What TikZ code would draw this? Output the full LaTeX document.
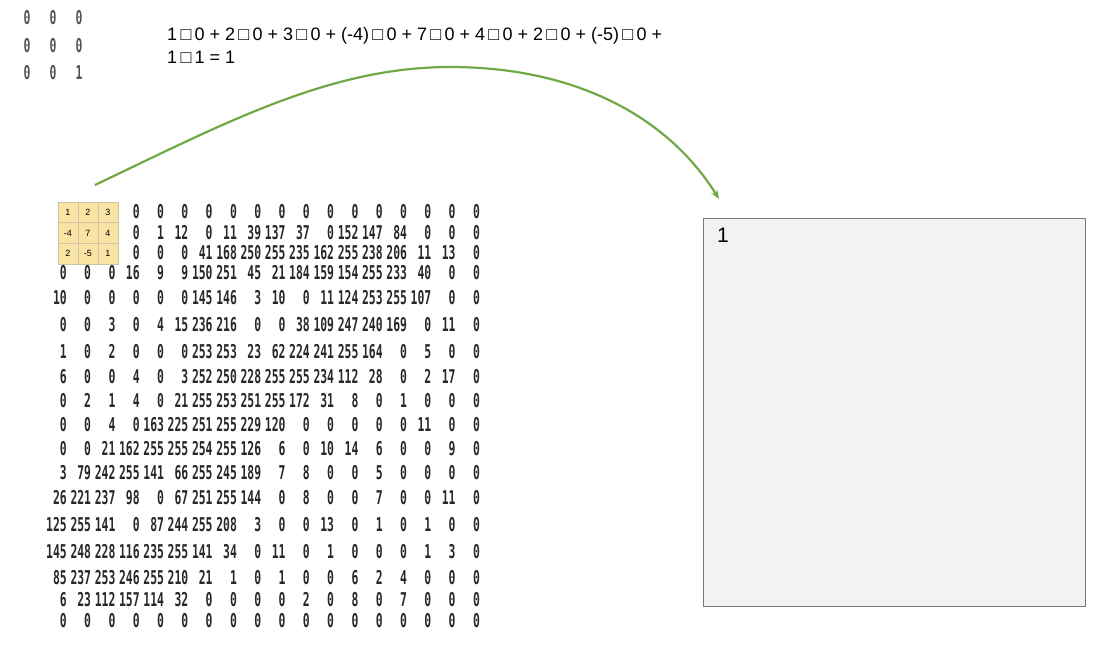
\documentclass[tikz,border=0pt]{standalone}
\usepackage{fontspec}
\setmainfont{Liberation Sans}
\newfontfamily\matfont[FakeStretch=0.6]{DejaVu Sans Mono}
\newfontfamily\eqfont{Liberation Sans}
\usetikzlibrary{arrows.meta}
\definecolor{arrowgreen}{RGB}{112,168,70}
\definecolor{kernfill}{RGB}{250,228,164}
\definecolor{kernline}{RGB}{205,195,165}
\definecolor{boxfill}{RGB}{242,242,242}
\definecolor{boxline}{RGB}{120,120,120}
\definecolor{digit}{RGB}{40,40,40}
\newcommand{\sqb}{\hspace{3.3pt}□\hspace{3.3pt}}
\begin{document}
\begin{tikzpicture}[x=1pt,y=-1pt,
  num/.style={anchor=east,inner sep=0pt,text height=13.5pt,text depth=0pt,text=digit,font=\matfont\bfseries\fontsize{19}{19}\selectfont},
  small/.style={anchor=center,inner sep=0pt,text height=13.5pt,text depth=0pt,text=digit!80,font=\matfont\bfseries\fontsize{19}{19}\selectfont},
  kcell/.style={draw=kernline,fill=kernfill,line width=0.6pt,minimum width=20pt,minimum height=20.7pt,inner sep=0pt,font=\eqfont\fontsize{9}{9}\selectfont},
  eqtext/.style={anchor=north west,inner sep=0pt,align=left,font=\eqfont\fontsize{18}{23}\selectfont},
  outbox/.style={draw=boxline,fill=boxfill,line width=1pt},
  flow/.style={draw=arrowgreen,line width=2.2pt,-{Stealth[length=9pt,width=7pt]}}]
\useasboundingbox (0,0) rectangle (1106,670);
\fill[white] (0,0) rectangle (1106,670);
% small result matrix
\foreach \r/\rv in {1/18,2/46,3/73}{
  \foreach \c/\cv in {1/27,2/53,3/79}{
    \pgfmathtruncatemacro\val{(\r==3 && \c==3) ? 1 : 0}
    \node[small] (s\r\c) at (\cv,\rv) {\val};
  }
}
% equation
\node[eqtext] (eq) at (167,27) {1\sqb0 + 2\sqb0 + 3\sqb0 + (-4)\sqb0 + 7\sqb0 + 4\sqb0 + 2\sqb0 + (-5)\sqb0 +\\1\sqb1 = 1};
% kernel
\foreach \r/\rowvals in {1/{1,2,3},2/{-4,7,4},3/{2,-5,1}}{
  \foreach \v [count=\c] in \rowvals {
    \node[kcell] (k\r\c) at ({58+20*\c-10},{202+20.7*\r-10.35}) {\v};
  }
}
% image matrix
\def\rowys{{212,232.5,253,273,298,325,352,377,401,425,449,473,498,525,552,578,600,621}}
\foreach \rowvals [count=\r] in {
 {,,,0,0,0,0,0,0,0,0,0,0,0,0,0,0,0},
 {,,,0,1,12,0,11,39,137,37,0,152,147,84,0,0,0},
 {,,,0,0,0,41,168,250,255,235,162,255,238,206,11,13,0},
 {0,0,0,16,9,9,150,251,45,21,184,159,154,255,233,40,0,0},
 {10,0,0,0,0,0,145,146,3,10,0,11,124,253,255,107,0,0},
 {0,0,3,0,4,15,236,216,0,0,38,109,247,240,169,0,11,0},
 {1,0,2,0,0,0,253,253,23,62,224,241,255,164,0,5,0,0},
 {6,0,0,4,0,3,252,250,228,255,255,234,112,28,0,2,17,0},
 {0,2,1,4,0,21,255,253,251,255,172,31,8,0,1,0,0,0},
 {0,0,4,0,163,225,251,255,229,120,0,0,0,0,0,11,0,0},
 {0,0,21,162,255,255,254,255,126,6,0,10,14,6,0,0,9,0},
 {3,79,242,255,141,66,255,245,189,7,8,0,0,5,0,0,0,0},
 {26,221,237,98,0,67,251,255,144,0,8,0,0,7,0,0,11,0},
 {125,255,141,0,87,244,255,208,3,0,0,13,0,1,0,1,0,0},
 {145,248,228,116,235,255,141,34,0,11,0,1,0,0,0,1,3,0},
 {85,237,253,246,255,210,21,1,0,1,0,0,6,2,4,0,0,0},
 {6,23,112,157,114,32,0,0,0,0,2,0,8,0,7,0,0,0},
 {0,0,0,0,0,0,0,0,0,0,0,0,0,0,0,0,0,0}}{
  \pgfmathsetmacro\yy{\rowys[\r-1]}
  \foreach \v [count=\c] in \rowvals {
    \node[num] (m\r-\c) at ({67+24.3*(\c-1)},\yy) {\v};
  }
}
% output box
\node[outbox,anchor=north west,minimum width=382pt,minimum height=388pt,inner sep=0pt] (out) at (703,218) {};
\node[anchor=north west,inner sep=0pt,font=\eqfont\fontsize{21}{21}\selectfont] (res) at (717,228) {1};
% arrow
\coordinate (from) at (95,185);
\coordinate (peak) at (450,67);
\coordinate (to) at (719,199);
\draw[flow] (from) .. controls (225,123) and (330,67) .. (peak) .. controls (580,67) and (670,120) .. (to);
\end{tikzpicture}
\end{document}
